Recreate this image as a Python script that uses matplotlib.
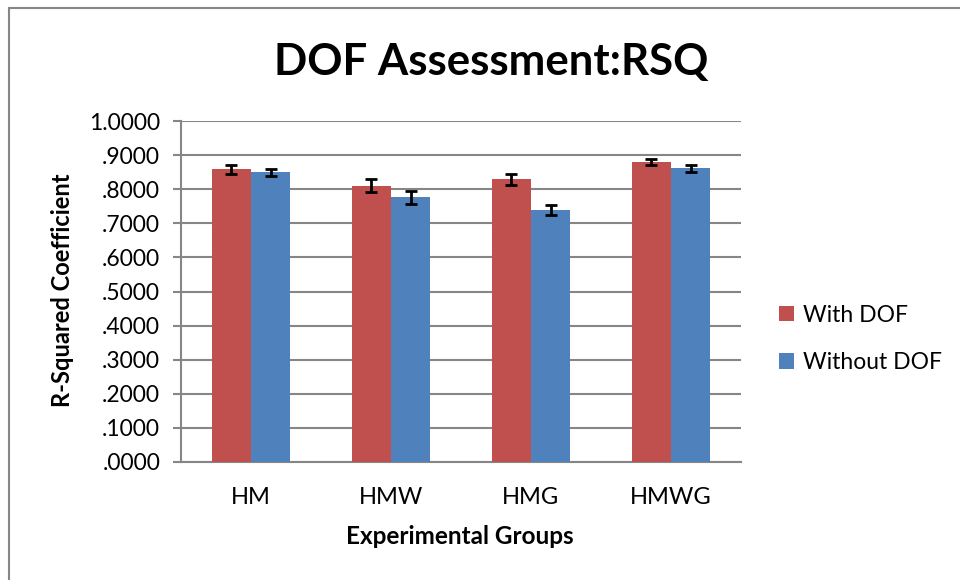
import matplotlib.pyplot as plt
import numpy as np
from matplotlib import patches

# data
groups = ['HM', 'HMW', 'HMG', 'HMWG']
with_dof = [0.858, 0.810, 0.829, 0.880]
with_dof_err = [0.014, 0.019, 0.016, 0.009]
without_dof = [0.849, 0.776, 0.739, 0.861]
without_dof_err = [0.011, 0.018, 0.014, 0.011]
series_names = ['With DOF', 'Without DOF']

RED = '#C0504D'
BLUE = '#4F81BD'
GRID = '#868686'
W, H = 960, 580

plt.rcParams['font.family'] = ['Lato', 'DejaVu Sans']

fig = plt.figure(figsize=(W / 100, H / 100), dpi=100)
ax = fig.add_axes([181 / W, 1 - 462 / H, 560 / W, 341 / H])

# outer chart border (only left/top visible in the reference)
fig.patches.append(patches.Rectangle((9 / W, -0.1), 1.2, 1 - 8 / H + 0.1,
                                     transform=fig.transFigure, fill=False,
                                     edgecolor=GRID, linewidth=1.5))

x = np.arange(len(groups))
bw = 0.28
err_kw = dict(ecolor='black', elinewidth=2, capsize=4, capthick=2)
ax.bar(x - bw / 2, with_dof, bw, yerr=with_dof_err, color=RED,
       label=series_names[0], error_kw=err_kw, zorder=3)
ax.bar(x + bw / 2, without_dof, bw, yerr=without_dof_err, color=BLUE,
       label=series_names[1], error_kw=err_kw, zorder=3)

ax.set_xlim(-0.5, len(groups) - 0.5)
ax.set_ylim(0, 1.0)
yt = np.arange(0, 1.01, 0.1)
ax.set_yticks(yt)
ax.set_yticklabels(['%.4f' % v if v >= 0.999 else ('%.4f' % v)[1:] for v in yt],
                   fontsize=16.5)
ax.set_xticks(x)
ax.set_xticklabels(groups, fontsize=17)
ax.tick_params(axis='y', length=6, color=GRID, width=1.5, pad=9)
ax.tick_params(axis='x', length=0, pad=18)
ax.grid(axis='y', color=GRID, linewidth=1.5, zorder=0)
for s in ['top', 'right']:
    ax.spines[s].set_visible(False)
ax.spines['left'].set_color(GRID)
ax.spines['left'].set_linewidth(1.5)
ax.spines['bottom'].set_color(GRID)
ax.spines['bottom'].set_linewidth(1.5)

fig.text(491 / W, 1 - 62 / H, 'DOF Assessment:RSQ', ha='center', va='center',
         fontsize=31.5, fontweight='bold')
fig.text(62 / W, 1 - 290 / H, 'R-Squared Coefficient', ha='center', va='center',
         rotation=90, fontsize=17, fontweight='bold')
fig.text(460 / W, 1 - 537 / H, 'Experimental Groups', ha='center', va='center',
         fontsize=17.5, fontweight='bold')

fig.legend(loc='upper left', bbox_to_anchor=(758 / W, 1 - 284 / H),
           frameon=False, fontsize=16.5, handlelength=0.65, handleheight=0.65,
           handletextpad=0.4, labelspacing=1.15)

fig.savefig('out.png', dpi=100)
